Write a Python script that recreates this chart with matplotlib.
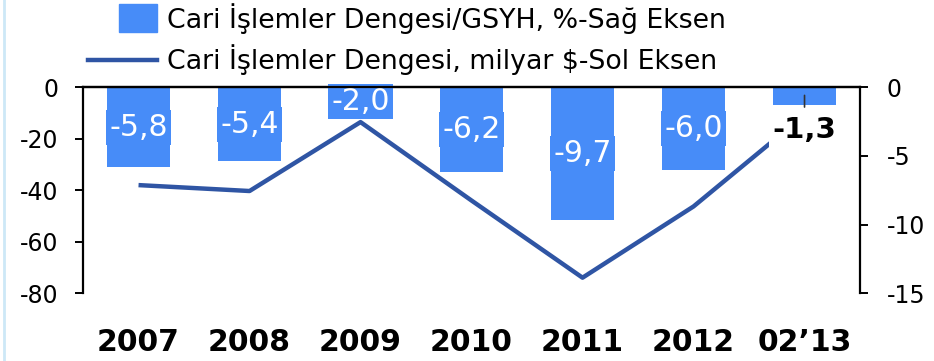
import numpy as np
import matplotlib.pyplot as plt
from matplotlib.patches import Rectangle
from matplotlib.lines import Line2D

# Cari islemler dengesi verileri
years = ['2007', '2008', '2009', '2010', '2011', '2012', '02’13']
ratio_gdp = [-5.8, -5.4, -2.0, -6.2, -9.7, -6.0, -1.3]          # %, sag eksen
balance_bn = [-38.0, -40.3, -13.5, -44.0, -74.0, -46.3, -10.7]  # milyar $, sol eksen
ratio_labels = ['-5,8', '-5,4', '-2,0', '-6,2', '-9,7', '-6,0', '-1,3']

left_ticks = [0, -20, -40, -60, -80]
right_ticks = [0, -5, -10, -15]

bar_color = '#478CF8'
line_color = '#2F55A4'
main_font = ['DejaVu Sans']

fig = plt.figure(figsize=(9.34, 3.61), dpi=100)
ax1 = fig.add_axes([0.0889, 0.188, 0.8319, 0.570])
ax2 = ax1.twinx()

x = np.arange(len(years))

# bars on the right axis
ax2.bar(x, ratio_gdp, width=0.57, color=bar_color, zorder=1)
ax2.set_ylim(-15, 0)
ax2.set_yticks(right_ticks)
ax2.set_yticklabels([str(t) for t in right_ticks], fontsize=17, family=main_font)

# line on the left axis, drawn above the bars
ax1.set_zorder(ax2.get_zorder() + 1)
ax1.patch.set_visible(False)
ax1.plot(x, balance_bn, color=line_color, lw=3.2, solid_capstyle='butt', zorder=2)
ax1.set_ylim(-80, 0)
ax1.set_xlim(-0.5, 6.5)
ax1.set_yticks(left_ticks)
ax1.set_yticklabels([str(t) for t in left_ticks], fontsize=17, family=main_font)
ax1.set_xticks(x)
ax1.set_xticklabels(years, fontsize=21.5, family=main_font, fontweight='bold')

for a in (ax1, ax2):
    a.spines['bottom'].set_visible(False)
    for s in ('top', 'left', 'right'):
        a.spines[s].set_linewidth(1.6)
ax1.spines['right'].set_visible(False)
ax2.spines['left'].set_visible(False)
ax1.tick_params(axis='y', length=6, width=1.4, pad=12)
ax2.tick_params(axis='y', length=6, width=1.4, pad=13)
ax1.tick_params(axis='x', length=0, pad=25)

# value labels: white on blue inside the bars, the last one below its bar
for i, (v, lab) in enumerate(zip(ratio_gdp, ratio_labels)):
    if i < len(ratio_gdp) - 1:
        ax2.text(i, v / 2, lab, ha='center', va='center', color='white',
                 fontsize=21.5, family=main_font, zorder=3,
                 bbox=dict(boxstyle='square,pad=0.1', fc=bar_color, ec='none'))
    else:
        ax1.annotate(lab, xy=(i, v * 0.45), xycoords=ax2.transData,
                     xytext=(0, -25), textcoords='offset points',
                     ha='center', va='center', fontsize=21, fontweight='bold',
                     family=main_font, color='black', zorder=5,
                     bbox=dict(boxstyle='square,pad=0.12', fc='white', ec='none'),
                     arrowprops=dict(arrowstyle='-', color='#333333', lw=1.2,
                                     shrinkA=4, shrinkB=0))

# legend
ax_leg = fig.add_axes([0, 0, 1, 1], facecolor='none')
ax_leg.set_xlim(0, 934)
ax_leg.set_ylim(361, 0)
ax_leg.axis('off')
ax_leg.add_patch(Rectangle((119, 4), 38, 28, color=bar_color))
ax_leg.add_line(Line2D([88, 157], [60, 60], color=line_color, lw=3.2))
ax_leg.text(167, 19, 'Cari İşlemler Dengesi/GSYH, %-Sağ Eksen', va='center',
            fontsize=19.3, family=main_font)
ax_leg.text(167, 60, 'Cari İşlemler Dengesi, milyar $-Sol Eksen', va='center',
            fontsize=19.3, family=main_font)
ax_leg.add_line(Line2D([4, 4], [0, 361], color='#CDE8F7', lw=2))

fig.savefig('out.png', dpi=100)
